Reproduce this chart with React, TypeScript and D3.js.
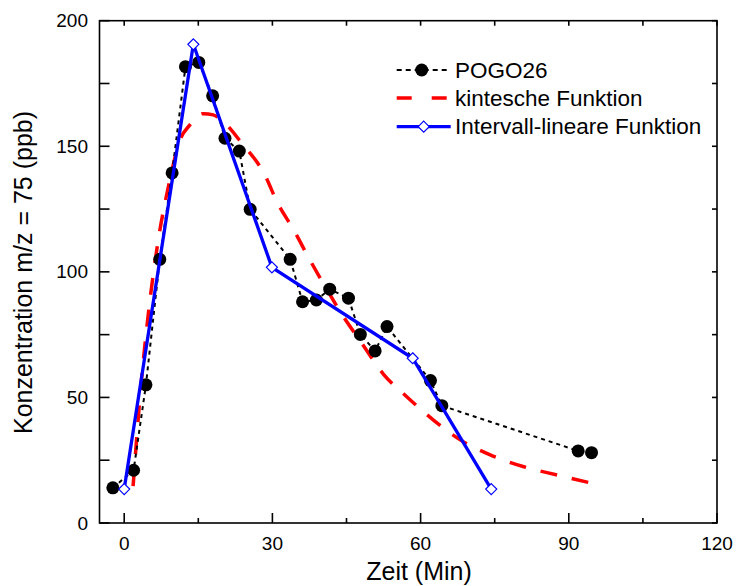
import React from "react";
import * as d3 from "d3";

// POGO26 measurements
const pogoTime = [-2.3, 1.9, 4.4, 7.2, 9.7, 12.4, 15.1, 17.9, 20.4, 23.3, 25.5, 33.6, 36.1, 38.9, 41.6, 45.4, 47.8, 50.8, 53.2, 62.0, 64.3, 91.9, 94.6];
const pogoConc = [14, 21, 55, 105, 139.4, 181.7, 183.4, 170.1, 153.2, 148.1, 124.9, 105, 88.1, 88.8, 93.1, 89.5, 75.1, 68.5, 78.2, 56.7, 46.7, 28.7, 28.0];

// kinetic function
const kinTime = [1.8, 3.5, 4.9, 6.9, 9.1, 11.3, 13.3, 16.0, 18.0, 20.4, 23.8, 28.5, 30.9, 34.3, 37.6, 40.3, 44.4, 48.1, 52.5, 57.2, 62.6, 68.1, 74.1, 80.9, 87.7, 94.7];
const kinConc = [14.7, 57, 83.5, 112.7, 135.3, 152.5, 158.5, 163, 162.5, 159.2, 151.2, 138.5, 128, 116.7, 104.7, 95.4, 82.1, 71.6, 59.2, 50.3, 41, 33, 27.1, 22.4, 19.1, 15.8];

// interval-linear function
const linTime = [0, 14.0, 29.9, 58.4, 74.3];
const linConc = [13.5, 190.6, 101.8, 65.6, 13.5];

const xTicks = [0, 30, 60, 90, 120];
const xMinorTicks = [15, 45, 75, 105];
const yTicks = [0, 50, 100, 150, 200];
const yAllTicks = [0, 25, 50, 75, 100, 125, 150, 175, 200];

const legendLabels = ["POGO26", "kintesche Funktion", "Intervall-lineare Funktion"];

const W = 736, H = 586;
const L = 99.5, R = 717, T = 20.7, B = 523;
const FONT = "Arial, 'Liberation Sans', sans-serif";

export default function App() {
  const x = d3.scaleLinear().domain([-5, 120]).range([L, R]);
  const y = d3.scaleLinear().domain([0, 200]).range([B, T]);

  const pogo = pogoTime.map((t, i) => [t, pogoConc[i]] as [number, number]);
  const kin = kinTime.map((t, i) => [t, kinConc[i]] as [number, number]);
  const lin = linTime.map((t, i) => [t, linConc[i]] as [number, number]);

  const line = d3.line<[number, number]>().x(d => x(d[0])).y(d => y(d[1]));
  const smooth = d3.line<[number, number]>().x(d => x(d[0])).y(d => y(d[1])).curve(d3.curveMonotoneX);

  const diamond = (cx: number, cy: number, r = 5.5) =>
    `M${cx},${cy - r}L${cx + r},${cy}L${cx},${cy + r}L${cx - r},${cy}Z`;

  const legX0 = 396.7, legX1 = 446.7, legTX = 455;
  const legY = [70, 98, 126.7];

  return (
    <svg width={W} height={H} style={{ position: "absolute", left: 0, top: 0, background: "#fff" }}>
      <rect x={0} y={0} width={W} height={H} fill="#fff" />
      {/* series */}
      <path d={smooth(kin) || ""} fill="none" stroke="#ff0000" strokeWidth={3.5} strokeDasharray="17,15" />
      <path d={line(pogo) || ""} fill="none" stroke="#000" strokeWidth={2} strokeDasharray="4,4" />
      {pogo.map((d, i) => (
        <circle key={i} cx={x(d[0])} cy={y(d[1])} r={6.5} fill="#000" />
      ))}
      <path d={line(lin) || ""} fill="none" stroke="#0000ff" strokeWidth={3.3} />
      {lin.map((d, i) => (
        <path key={i} d={diamond(x(d[0]), y(d[1]))} fill="#fff" stroke="#0000ff" strokeWidth={1.2} />
      ))}

      {/* frame */}
      <rect x={L} y={T} width={R - L} height={B - T} fill="none" stroke="#000" strokeWidth={1.6} />
      {/* x ticks */}
      {xTicks.map(t => (
        <g key={"xt" + t}>
          <line x1={x(t)} x2={x(t)} y1={B} y2={B - 10} stroke="#000" strokeWidth={1.6} />
          <line x1={x(t)} x2={x(t)} y1={T} y2={T + 5} stroke="#000" strokeWidth={1.6} />
          <text x={x(t)} y={550} textAnchor="middle" fontFamily={FONT} fontSize={19}>{t}</text>
        </g>
      ))}
      {xMinorTicks.map(t => (
        <g key={"xm" + t}>
          <line x1={x(t)} x2={x(t)} y1={B} y2={B - 5} stroke="#000" strokeWidth={1.6} />
          <line x1={x(t)} x2={x(t)} y1={T} y2={T + 5} stroke="#000" strokeWidth={1.6} />
        </g>
      ))}
      {/* y ticks */}
      {yAllTicks.map(v => (
        <g key={"yt" + v}>
          <line x1={L} x2={L + 10} y1={y(v)} y2={y(v)} stroke="#000" strokeWidth={1.6} />
          <line x1={R} x2={R - 5} y1={y(v)} y2={y(v)} stroke="#000" strokeWidth={1.6} />
        </g>
      ))}
      {yTicks.map(v => (
        <text key={"yl" + v} x={88} y={y(v)} textAnchor="end" dominantBaseline="central" fontFamily={FONT} fontSize={19}>{v}</text>
      ))}

      {/* axis titles */}
      <text x={419} y={580} textAnchor="middle" fontFamily={FONT} fontSize={25}>Zeit (Min)</text>
      <text transform={`translate(32,${272.5}) rotate(-90)`} textAnchor="middle" fontFamily={FONT} fontSize={25}>Konzentration m/z = 75 (ppb)</text>

      {/* legend */}
      <line x1={legX0} x2={legX1} y1={legY[0]} y2={legY[0]} stroke="#000" strokeWidth={2} strokeDasharray="5,4" />
      <circle cx={(legX0 + legX1) / 2} cy={legY[0]} r={6.5} fill="#000" />
      <line x1={legX0} x2={legX1} y1={legY[1]} y2={legY[1]} stroke="#ff0000" strokeWidth={3.5} strokeDasharray="15,20" />
      <line x1={legX0} x2={legX1 + 4} y1={legY[2]} y2={legY[2]} stroke="#0000ff" strokeWidth={3.3} />
      <path d={diamond((legX0 + legX1 + 4) / 2, legY[2])} fill="#fff" stroke="#0000ff" strokeWidth={1.2} />
      {legendLabels.map((lab, i) => (
        <text key={lab} x={legTX} y={legY[i]} dominantBaseline="central" fontFamily={FONT} fontSize={22.5}>{lab}</text>
      ))}
    </svg>
  );
}
